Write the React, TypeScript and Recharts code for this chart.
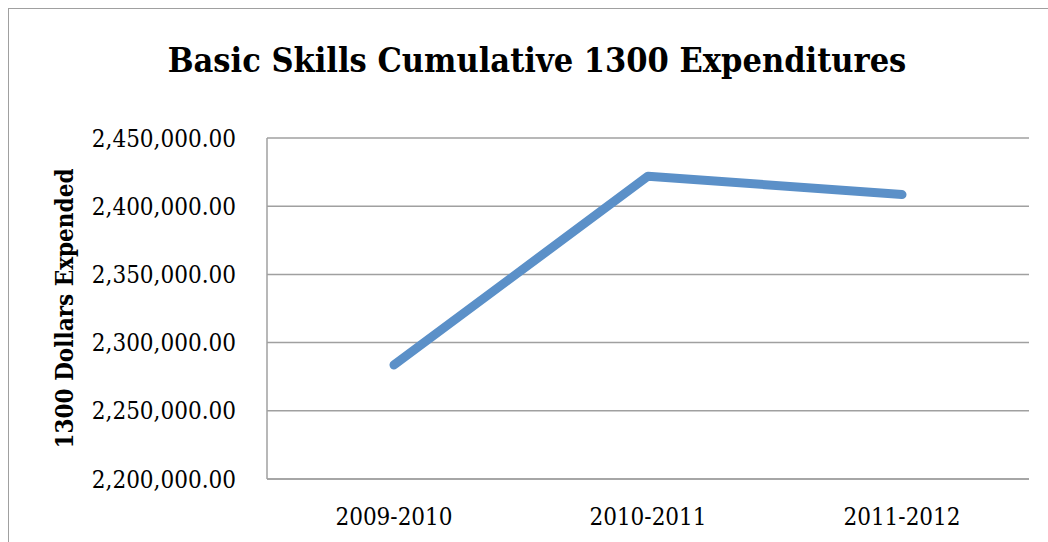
import { LineChart, Line, XAxis, YAxis, CartesianGrid, Label } from "recharts";

const years = ["2009-2010", "2010-2011", "2011-2012"];
const expended = [2283600, 2422000, 2408500];
const yTicks = [2200000, 2250000, 2300000, 2350000, 2400000, 2450000];

const data = years.map((year, i) => ({ year, value: expended[i] }));

const serif = '"DejaVu Serif Condensed", "DejaVu Serif", serif';
const fmt = (v: number) =>
  v.toLocaleString("en-US", { minimumFractionDigits: 2, maximumFractionDigits: 2 });

export default function App() {
  return (
    <div style={{ position: "absolute", left: 0, top: 0, width: 1048, height: 542, background: "#fff", overflow: "hidden" }}>
      <div
        style={{
          position: "absolute",
          left: 8,
          top: 8,
          width: 1100,
          height: 600,
          borderLeft: "1.5px solid #a0a0a0",
          borderTop: "1.5px solid #a0a0a0",
        }}
      />
      <div
        style={{
          position: "absolute",
          left: 8,
          width: 1058,
          top: 40,
          textAlign: "center",
          fontFamily: serif,
          fontWeight: "bold",
          fontSize: 34,
          color: "#000",
        }}
      >
        Basic Skills Cumulative 1300 Expenditures
      </div>
      <div style={{ position: "absolute", left: 0, top: 0 }}>
        <LineChart width={1048} height={542} data={data} margin={{ top: 138, right: 19, bottom: 0, left: 0 }}>
          <CartesianGrid vertical={false} stroke="#a0a0a0" strokeWidth={1.5} />
          <XAxis
            dataKey="year"
            scale="band"
            height={63}
            stroke="#a0a0a0"
            strokeWidth={1.5}
            tickLine={false}
            tickSize={0}
            tickMargin={29}
            tick={{ fill: "#000", fontSize: 24, fontFamily: serif }}
          />
          <YAxis
            width={267}
            domain={[2200000, 2450000]}
            ticks={yTicks}
            tickFormatter={fmt}
            stroke="#a0a0a0"
            strokeWidth={1.5}
            tickLine={false}
            tickSize={0}
            tickMargin={31}
            tick={{ fill: "#000", fontSize: 24, fontFamily: serif }}
          >
            <Label
              content={({ viewBox }: any) => {
                const cy = viewBox.y + viewBox.height / 2;
                return (
                  <text
                    x={64}
                    y={cy}
                    transform={`rotate(-90 64 ${cy})`}
                    textAnchor="middle"
                    dominantBaseline="central"
                    fontFamily={serif}
                    fontWeight="bold"
                    fontSize={24}
                    fill="#000"
                  >
                    1300 Dollars Expended
                  </text>
                );
              }}
            />
          </YAxis>
          <Line
            type="linear"
            dataKey="value"
            stroke="#5b90c8"
            strokeWidth={9}
            strokeLinecap="round"
            strokeLinejoin="round"
            dot={false}
            activeDot={false}
            isAnimationActive={false}
          />
        </LineChart>
      </div>
    </div>
  );
}
